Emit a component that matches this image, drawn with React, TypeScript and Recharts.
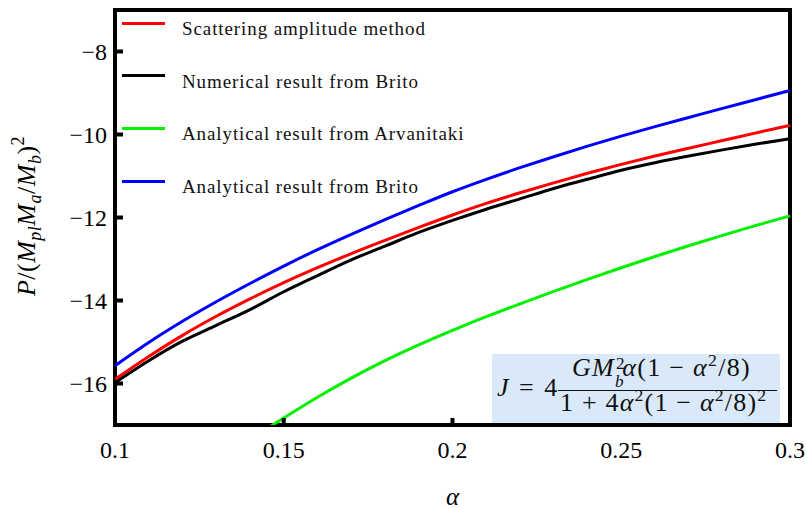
import { LineChart, Line, XAxis, YAxis, ReferenceArea, Legend } from "recharts";

// alpha grid and the four curves
const alpha = [0.1, 0.11, 0.12, 0.13, 0.14, 0.15, 0.16, 0.17, 0.18, 0.19, 0.2, 0.21, 0.22, 0.23, 0.24, 0.25, 0.26, 0.27, 0.28, 0.29, 0.3];
const scattering = [-15.9, -15.35, -14.84, -14.38, -13.96, -13.57, -13.21, -12.87, -12.55, -12.24, -11.94, -11.66, -11.405, -11.165, -10.935, -10.72, -10.52, -10.33, -10.145, -9.96, -9.78];
const britoNumerical = [-15.98, -15.45, -14.98, -14.6, -14.22, -13.79, -13.4, -13.02, -12.69, -12.36, -12.07, -11.8, -11.55, -11.3, -11.08, -10.86, -10.68, -10.52, -10.37, -10.23, -10.1];
const arvanitaki = [null, null, null, null, -17.35, -16.83, -16.33, -15.87, -15.45, -15.07, -14.72, -14.39, -14.08, -13.78, -13.49, -13.21, -12.94, -12.68, -12.43, -12.19, -11.96];
const britoAnalytical = [-15.57, -15.01, -14.5, -14.03, -13.59, -13.17, -12.775, -12.405, -12.05, -11.71, -11.38, -11.08, -10.8, -10.535, -10.28, -10.04, -9.81, -9.59, -9.37, -9.155, -8.94];

const xTicks = [0.1, 0.15, 0.2, 0.25, 0.3];
const yTicks = [-16, -14, -12, -10, -8];

const seriesNames = [
  "Scattering amplitude method",
  "Numerical result from Brito",
  "Analytical result from Arvanitaki",
  "Analytical result from Brito",
];

const data = alpha.map((a, i) => ({
  alpha: a,
  scattering: scattering[i],
  britoNumerical: britoNumerical[i],
  arvanitaki: arvanitaki[i],
  britoAnalytical: britoAnalytical[i],
}));

const SERIF = "'Liberation Serif', 'Times New Roman', Tinos, 'DejaVu Serif', serif";

function LegendBox(props: any) {
  const items = [...(props.payload || [])].sort(
    (a: any, b: any) => seriesNames.indexOf(a.value) - seriesNames.indexOf(b.value)
  );
  return (
    <div style={{ position: "relative", width: 420, height: 200, fontFamily: SERIF }}>
      {items.map((it: any, i: number) => {
        const ly = 23 + i * 52.7;
        return (
          <div key={i}>
            <div style={{ position: "absolute", left: 122, top: ly - 1.5, width: 43, height: 3, background: it.color }} />
            <div style={{ position: "absolute", left: 182, top: ly - 4, fontSize: 19, lineHeight: "19px", whiteSpace: "nowrap", letterSpacing: 0.9, color: "#111" }}>
              {it.value}
            </div>
          </div>
        );
      })}
    </div>
  );
}

function YLabel() {
  const cx = 35;
  const cy = 216;
  return (
    <text x={cx} y={cy} transform={`rotate(-90 ${cx} ${cy})`} textAnchor="middle" fontFamily={SERIF} fontSize={26} letterSpacing={0.5} fill="#000">
      <tspan fontStyle="italic">P</tspan>
      <tspan>/(</tspan>
      <tspan fontStyle="italic">M</tspan>
      <tspan fontStyle="italic" fontSize={18} dy={6}>pl</tspan>
      <tspan fontStyle="italic" dy={-6}>M</tspan>
      <tspan fontStyle="italic" fontSize={18} dy={6}>a</tspan>
      <tspan dy={-6}>/</tspan>
      <tspan fontStyle="italic">M</tspan>
      <tspan fontStyle="italic" fontSize={18} dy={6}>b</tspan>
      <tspan dy={-6}>)</tspan>
      <tspan fontSize={18} dy={-11}>2</tspan>
    </text>
  );
}

function XLabel(props: any) {
  const vb = props.viewBox || { x: 115, y: 425, width: 675, height: 84 };
  return (
    <text x={vb.x + vb.width / 2} y={vb.y + 80} textAnchor="middle" fontFamily={SERIF} fontStyle="italic" fontSize={25} fill="#000">
      α
    </text>
  );
}

const sup = (t: string) => (
  <span style={{ fontSize: "0.68em", position: "relative", top: "-0.55em" }}>{t}</span>
);

function Formula() {
  return (
    <div
      style={{
        position: "absolute",
        left: 492,
        top: 354,
        width: 288,
        height: 69,
        background: "#dae9f9",
        fontFamily: SERIF,
        fontSize: 26,
        color: "#111",
        whiteSpace: "nowrap",
      }}
    >
      <div style={{ position: "absolute", left: 5, top: 21, lineHeight: "26px", wordSpacing: 2, letterSpacing: 1 }}>
        <i>J</i> = 4
      </div>
      <div style={{ position: "absolute", left: 66, top: 36, width: 219, height: 0, borderTop: "1.3px solid #111" }} />
      <div style={{ position: "absolute", left: 80, top: 1, lineHeight: "26px", letterSpacing: 1.3 }}>
        <i>GM</i>
        <span style={{ position: "relative", display: "inline-block", width: "0.42em", height: "1em", fontSize: "0.66em", lineHeight: "1em" }}>
          <span style={{ position: "absolute", left: 1, top: "-0.2em" }}>2</span>
          <i style={{ position: "absolute", left: 0, top: "0.85em" }}>b</i>
        </span>
        <i>α</i>(1 − <i>α</i>
        {sup("2")}/8)
      </div>
      <div style={{ position: "absolute", left: 68, top: 36, lineHeight: "26px", letterSpacing: 1.2 }}>
        1 + 4<i>α</i>
        {sup("2")}(1 − <i>α</i>
        {sup("2")}/8)
        {sup("2")}
      </div>
    </div>
  );
}

export default function App() {
  return (
    <div style={{ position: "absolute", left: 0, top: 0, width: 806, height: 509, background: "#fff" }}>
      <LineChart width={806} height={509} data={data} margin={{ top: 10, right: 16, bottom: 0, left: 0 }}>
        <XAxis
          dataKey="alpha"
          type="number"
          domain={[0.1, 0.3]}
          ticks={xTicks}
          tickFormatter={(v: number) => String(v)}
          height={84}
          axisLine={false}
          tickSize={-7}
          tickMargin={23}
          tickLine={{ stroke: "#000", strokeWidth: 4 }}
          tick={{ fill: "#000", fontSize: 24, fontFamily: SERIF }}
          label={<XLabel />}
        />
        <YAxis
          type="number"
          domain={[-17, -7]}
          allowDataOverflow
          ticks={yTicks}
          tickFormatter={(v: number) => (v < 0 ? "\u2212" + Math.abs(v) : String(v))}
          width={115}
          axisLine={false}
          tickSize={-8}
          tickMargin={16}
          tickLine={{ stroke: "#000", strokeWidth: 4 }}
          tick={{ fill: "#000", fontSize: 24, fontFamily: SERIF }}
          label={<YLabel />}
        />
        <Line name={seriesNames[0]} dataKey="scattering" stroke="#ff0000" strokeWidth={3} dot={false} type="monotone" isAnimationActive={false} />
        <Line name={seriesNames[1]} dataKey="britoNumerical" stroke="#000000" strokeWidth={3} dot={false} type="monotone" isAnimationActive={false} />
        <Line name={seriesNames[2]} dataKey="arvanitaki" stroke="#00f000" strokeWidth={3} dot={false} type="monotone" isAnimationActive={false} />
        <Line name={seriesNames[3]} dataKey="britoAnalytical" stroke="#0000ff" strokeWidth={3} dot={false} type="monotone" isAnimationActive={false} />
        <ReferenceArea x1={0.1} x2={0.3} y1={-17} y2={-7} fill="none" stroke="#000" strokeWidth={4} ifOverflow="visible" />
        <Legend
          layout="vertical"
          align="center"
          verticalAlign="middle"
          content={<LegendBox />}
          wrapperStyle={{ left: 0, top: 0, width: 420, height: 200 }}
        />
      </LineChart>
      <Formula />
    </div>
  );
}
